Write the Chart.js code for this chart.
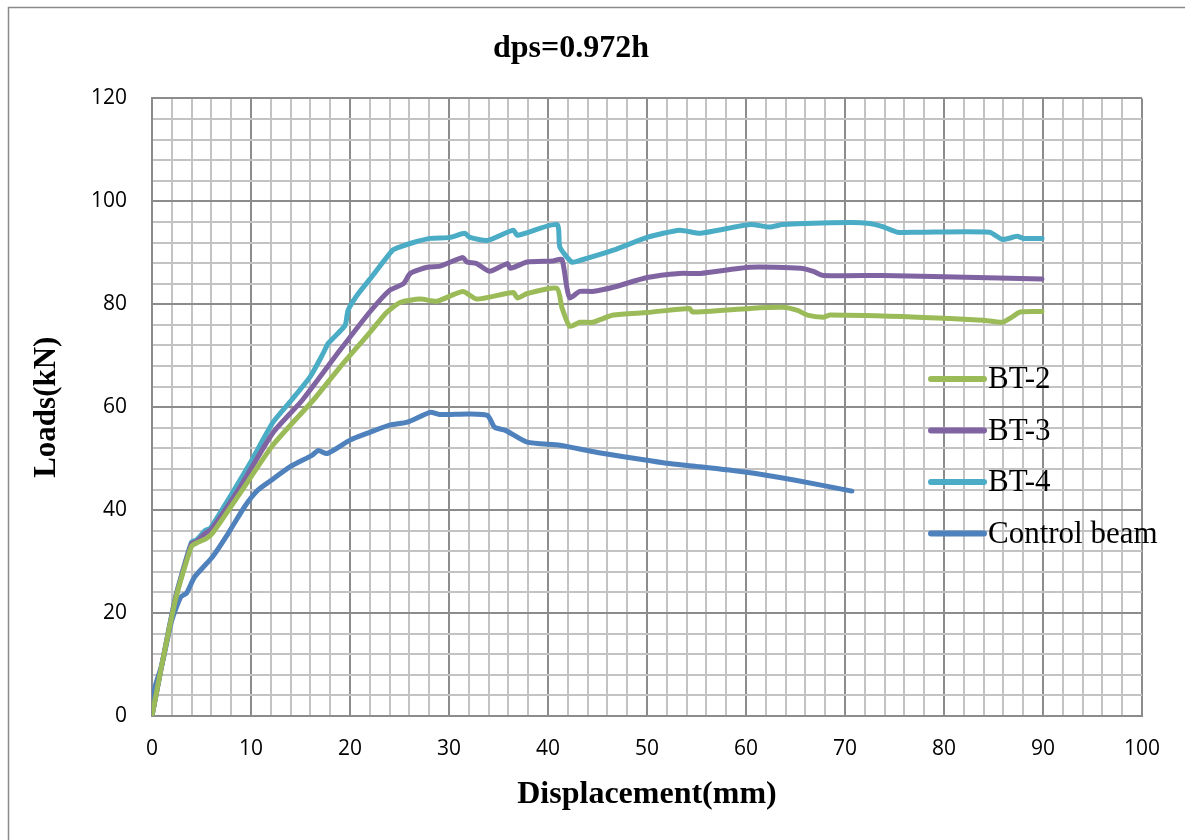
<!DOCTYPE html>
<html>
<head>
<meta charset="utf-8">
<script src="https://cdn.jsdelivr.net/npm/chart.js@4.4.1/dist/chart.umd.min.js"></script>
<style>
  html, body { margin: 0; padding: 0; background: #fff; }
  canvas { display: block; }
</style>
</head>
<body>
<canvas id="loadChart" width="1185" height="840"></canvas>
<script>
// load-displacement curves, displacement in mm, load in kN
var bt2Disp = [0, 0.5, 1, 2.3, 3, 4, 4.5, 5.5, 6.1, 8.9, 12.2, 16.3, 19, 22, 23.7, 25.1, 27.1, 28.8, 31.4, 32.8, 36.5, 36.9, 37.9, 40.9, 41.4, 42.2, 43.2, 44.5, 46.6, 50, 54.3, 54.6, 60.4, 63.7, 65.2, 66.2, 67.8, 68.5, 77.3, 83.9, 85.9, 86.7, 87.7, 89.9];
var bt2Load = [0, 5, 10, 22, 27, 33, 33.6, 34.5, 35.5, 43.3, 52.6, 61.4, 67.8, 74.5, 78.4, 80.4, 81, 80.6, 82.5, 81, 82.3, 81.2, 82.1, 83.1, 79.4, 75.7, 76.5, 76.5, 77.9, 78.4, 79.2, 78.5, 79.2, 79.4, 78.8, 77.9, 77.5, 77.9, 77.5, 76.9, 76.5, 77.3, 78.5, 78.6];

var bt3Disp = [0, 0.5, 1, 2.3, 3, 4, 4.5, 5.4, 6, 8.9, 12.2, 15.2, 19, 22, 24, 25.4, 26.1, 27.8, 29.1, 31.4, 31.8, 32.8, 34.1, 35.9, 36.2, 37.9, 40.5, 41.4, 41.9, 42.2, 43.2, 44.5, 46.6, 50, 53.3, 55.4, 60.4, 65.5, 66.8, 67.8, 73.8, 78.9, 89.9];
var bt3Load = [0, 5, 10, 22.3, 27.3, 33.5, 33.9, 35.5, 36.3, 44.5, 55, 61.4, 71.1, 78.5, 82.7, 84, 86, 87.2, 87.4, 89.1, 88.2, 87.9, 86.4, 87.9, 87, 88.2, 88.4, 88.7, 83.3, 81.2, 82.5, 82.5, 83.3, 85.2, 86, 86, 87.2, 87, 86.4, 85.6, 85.6, 85.4, 84.9];

var bt4Disp = [0, 0.5, 1, 2.3, 3, 4, 4.5, 5.4, 5.9, 8, 9.9, 12.2, 14.1, 16, 17.3, 17.8, 19.5, 19.8, 20.7, 22.3, 24.3, 25, 26.4, 28.1, 30.1, 31.6, 32.1, 33.9, 36.5, 36.9, 40.9, 41.2, 42.4, 43.2, 46.6, 50, 53.3, 55.4, 60.4, 62.4, 63.7, 70.5, 72.5, 73.8, 75.3, 77.3, 84.6, 85.9, 87.4, 88, 89.9];
var bt4Load = [0, 5, 10, 22.5, 27.5, 33.8, 34.2, 36.1, 36.5, 43, 49.1, 57, 61.4, 66, 70.5, 72.4, 75.9, 78.8, 81.7, 85.6, 90.5, 91.1, 92, 92.8, 93, 93.8, 93, 92.4, 94.4, 93.4, 95.5, 91.1, 88.2, 88.5, 90.5, 93, 94.4, 93.8, 95.5, 95, 95.5, 95.9, 95.7, 95.1, 94, 94, 94, 92.6, 93.2, 92.8, 92.8];

var ctrlDisp = [0, 0.3, 1, 2, 2.9, 3.5, 4.3, 6.1, 7.7, 9.4, 10.7, 11.9, 14, 16.2, 16.8, 17.7, 20, 21.7, 24, 25.8, 28.1, 29, 32, 33.9, 34.6, 35.7, 37.9, 41.2, 45, 50, 52, 55, 59.9, 65, 70.7];
var ctrlLoad = [0, 5.6, 10, 18.6, 23.1, 23.9, 27, 30.9, 35.5, 40.8, 43.9, 45.6, 48.5, 50.7, 51.6, 51, 53.6, 54.9, 56.5, 57.1, 59, 58.6, 58.7, 58.4, 56.1, 55.5, 53.2, 52.6, 51.2, 49.7, 49.1, 48.5, 47.4, 45.8, 43.7];

var seriesNames = ['BT-2', 'BT-3', 'BT-4', 'Control beam'];
var seriesColors = ['#9BBB59', '#8064A2', '#4BACC6', '#4F81BD'];

function pts(xs, ys) {
    return xs.map(function (x, i) { return { x: x, y: ys[i] }; });
}

var allData = [pts(bt2Disp, bt2Load), pts(bt3Disp, bt3Load), pts(bt4Disp, bt4Load), pts(ctrlDisp, ctrlLoad)];

var datasets = allData.map(function (d, i) {
    return {
        label: seriesNames[i],
        data: d,
        borderColor: seriesColors[i],
        backgroundColor: seriesColors[i],
        borderWidth: 5,
        pointRadius: 0,
        tension: 0.2,
        borderJoinStyle: 'round',
        borderCapStyle: 'round'
    };
});

var minorGrid = '#c3c3c3';
var majorGrid = '#8c8c8c';
var serif = '"Liberation Serif", "Times New Roman", serif';

// white page with a thin frame around it
var framePlugin = {
    id: 'frame',
    beforeDraw: function (chart) {
        var c = chart.ctx;
        c.save();
        c.fillStyle = '#fff';
        c.fillRect(0, 0, chart.width, chart.height);
        c.strokeStyle = '#8a8a8a';
        c.lineWidth = 1.5;
        c.strokeRect(8.5, 7.5, chart.width, chart.height);
        c.restore();
    }
};

// legend sits over the plot on the right, grid shows through
var sideLegend = {
    id: 'sideLegend',
    afterDatasetsDraw: function (chart) {
        var c = chart.ctx;
        c.save();
        c.font = '31px ' + serif;
        c.textBaseline = 'middle';
        c.textAlign = 'left';
        chart.data.datasets.forEach(function (ds, i) {
            var y = 379 + i * 51.5;
            c.strokeStyle = ds.borderColor;
            c.lineWidth = 6;
            c.lineCap = 'round';
            c.beginPath();
            c.moveTo(931, y);
            c.lineTo(984, y);
            c.stroke();
            c.fillStyle = '#000';
            c.fillText(ds.label, 988, y + 1);
        });
        c.restore();
    }
};

var ctx = document.getElementById('loadChart');

var myChart = new Chart(ctx, {
    type: 'line',
    data: { datasets: datasets },
    plugins: [framePlugin, sideLegend],
    options: {
        responsive: false,
        animation: false,
        layout: { padding: { left: 0, right: 43, top: 0, bottom: 0 } },
        plugins: {
            legend: { display: false },
            tooltip: { enabled: false },
            title: {
                display: true,
                text: 'dps=0.972h',
                color: '#000',
                font: { family: serif, size: 32, weight: 'bold' },
                padding: { top: 30, bottom: 30 }
            }
        },
        scales: {
            x: {
                type: 'linear',
                min: 0,
                max: 100,
                afterFit: function (scale) { scale.height = 124; },
                ticks: {
                    stepSize: 2,
                    autoSkip: false,
                    maxRotation: 0,
                    padding: 20,
                    color: '#000',
                    font: { family: '"Open Sans", sans-serif', size: 21 },
                    callback: function (v) { return v % 10 === 0 ? v : ''; }
                },
                grid: {
                    drawTicks: false,
                    lineWidth: 2,
                    color: function (c) { return c.tick && c.tick.value % 10 === 0 ? majorGrid : minorGrid; }
                },
                border: { color: majorGrid, width: 2 },
                title: {
                    display: true,
                    text: 'Displacement(mm)',
                    color: '#000',
                    font: { family: serif, size: 32, weight: 'bold' },
                    padding: { top: 0, bottom: 26 }
                }
            },
            y: {
                min: 0,
                max: 120,
                afterFit: function (scale) { scale.width = 152; },
                ticks: {
                    stepSize: 4,
                    autoSkip: false,
                    padding: 25,
                    color: '#000',
                    font: { family: '"Open Sans", sans-serif', size: 21 },
                    callback: function (v) { return v % 20 === 0 ? v : ''; }
                },
                grid: {
                    drawTicks: false,
                    lineWidth: 2,
                    color: function (c) { return c.tick && c.tick.value % 20 === 0 ? majorGrid : minorGrid; }
                },
                border: { color: majorGrid, width: 2 },
                title: {
                    display: true,
                    text: 'Loads(kN)',
                    color: '#000',
                    font: { family: serif, size: 31, weight: 'bold' },
                    padding: { top: 28, bottom: 0 }
                }
            }
        }
    }
});
</script>
</body>
</html>
